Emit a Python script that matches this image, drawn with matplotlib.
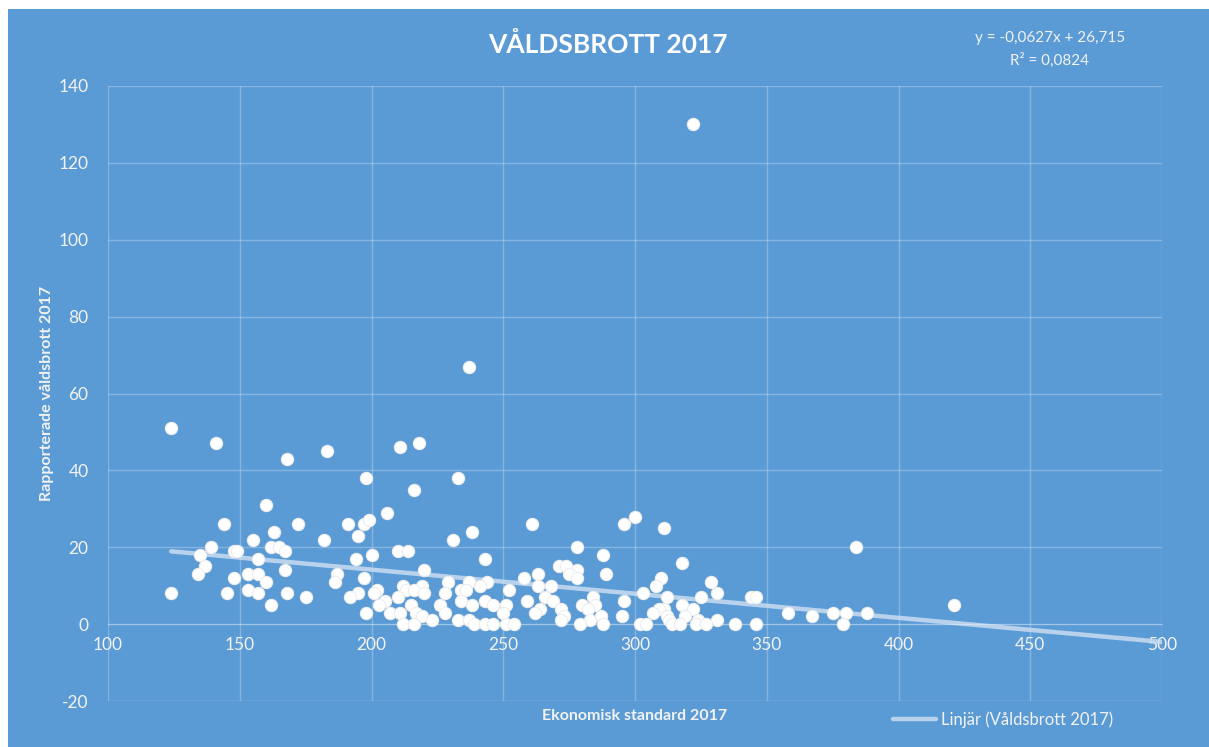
import numpy as np
import matplotlib
matplotlib.use("Agg")
from matplotlib import pyplot as plt
from matplotlib.patches import Rectangle

plt.rcParams["axes.unicode_minus"] = False

# Ekonomisk standard 2017 (x) och rapporterade våldsbrott 2017 (y)
ekonomisk_standard = [
    124, 124, 322, 237, 141, 168, 183, 211, 218, 198, 233, 216, 160, 206,
    144, 172, 191, 197, 199, 261, 296, 300, 311, 155, 182, 231, 163, 238,
    195, 139, 162, 165, 278, 384, 148, 149, 167, 210, 214, 135, 200, 288,
    157, 194, 243, 318, 137, 271, 274, 167, 220, 278, 134, 153, 157, 187,
    263, 275, 289, 148, 197, 258, 278, 310, 160, 186, 229, 237, 244, 329,
    212, 219, 241, 263, 268, 308, 153, 202, 213, 216, 252, 234, 236, 145,
    157, 168, 195, 201, 220, 228, 303, 331, 175, 192, 210, 266, 284, 325,
    312, 344, 346, 205, 234, 243, 259, 269, 296, 162, 203, 215, 226, 238,
    246, 251, 280, 285, 318, 421, 264, 272, 282, 322, 311, 309, 207, 198,
    211, 217, 228, 250, 262, 307, 358, 375, 380, 388, 219, 273, 295, 287,
    319, 367, 312, 223, 233, 237, 272, 283, 331, 324, 313, 212, 216, 239,
    243, 246, 251, 254, 279, 288, 302, 304, 314, 317, 323, 327, 338, 346,
    379,
]
valdsbrott = [
    51, 8, 130, 67, 47, 43, 45, 46, 47, 38, 38, 35, 31, 29,
    26, 26, 26, 26, 27, 26, 26, 28, 25, 22, 22, 22, 24, 24,
    23, 20, 20, 20, 20, 20, 19, 19, 19, 19, 19, 18, 18, 18,
    17, 17, 17, 16, 15, 15, 15, 14, 14, 14, 13, 13, 13, 13,
    13, 13, 13, 12, 12, 12, 12, 12, 11, 11, 11, 11, 11, 11,
    10, 10, 10, 10, 10, 10, 9, 9, 9, 9, 9, 9, 9, 8,
    8, 8, 8, 8, 8, 8, 8, 8, 7, 7, 7, 7, 7, 7,
    7, 7, 7, 6, 6, 6, 6, 6, 6, 5, 5, 5, 5, 5,
    5, 5, 5, 5, 5, 5, 4, 4, 4, 4, 4, 4, 3, 3,
    3, 3, 3, 3, 3, 3, 3, 3, 3, 3, 2, 2, 2, 2,
    2, 2, 2, 1, 1, 1, 1, 1, 1, 1, 1, 0, 0, 0,
    0, 0, 0, 0, 0, 0, 0, 0, 0, 0, 0, 0, 0, 0,
    0,
]

# linjär trendlinje enligt Excel
lutning = -0.0627
intercept = 26.715
x_ticks = [100, 150, 200, 250, 300, 350, 400, 450, 500]
y_ticks = [-20, 0, 20, 40, 60, 80, 100, 120, 140]

bla = "#5B9BD5"
text_farg = "#F2F2F2"
font = ["Lato", "DejaVu Sans"]

fig = plt.figure(figsize=(12.09, 7.47), dpi=100)
fig.patch.set_facecolor("white")
fig.patches.append(Rectangle((8 / 1209, 0), 1, 1 - 9 / 747, transform=fig.transFigure,
                             facecolor=bla, edgecolor="none", zorder=-1))

ax = fig.add_axes([108 / 1209, 1 - 701 / 747, (1162 - 108) / 1209, (701 - 86) / 747])
ax.set_facecolor(bla)

x_trend = np.array([min(ekonomisk_standard), 500])
ax.plot(x_trend, lutning * x_trend + intercept, color="#C9DDF2", lw=3.2,
        alpha=0.85, solid_capstyle="round", zorder=2, label="Linjär (Våldsbrott 2017)")
ax.scatter(ekonomisk_standard, valdsbrott, s=78, color="white",
           edgecolor="#EDEDED", linewidth=0.8, zorder=3)

ax.set_xlim(100, 500)
ax.set_ylim(-20, 140)
ax.set_xticks(x_ticks)
ax.set_yticks(y_ticks)
ax.grid(True, color="white", alpha=0.25, lw=1)
ax.set_axisbelow(True)
for s in ["top", "right", "left"]:
    ax.spines[s].set_visible(False)
ax.spines["bottom"].set_position(("data", 0))
ax.spines["bottom"].set_color((1, 1, 1, 0.25))
ax.tick_params(length=0, colors=text_farg, labelsize=12.5)
ax.tick_params(axis="x", pad=9)
ax.tick_params(axis="y", pad=14)
for lbl in ax.get_xticklabels() + ax.get_yticklabels():
    lbl.set_family(font)

fig.text(608 / 1209, 1 - 45 / 747, "VÅLDSBROTT 2017", color="white", fontsize=19,
         fontweight="bold", ha="center", va="center", family=font)
fig.text(1050 / 1209, 1 - 38 / 747, "y = -0,0627x + 26,715", color=text_farg,
         fontsize=11, ha="center", va="center", family=font)
fig.text(1050 / 1209, 1 - 60 / 747, "R² = 0,0824", color=text_farg,
         fontsize=11, ha="center", va="center", family=font)
fig.text(47 / 1209, 1 - 393 / 747, "Rapporterade våldsbrott 2017", color=text_farg,
         fontsize=11.5, fontweight="bold", rotation=90, ha="center", va="center", family=font)
fig.text(635 / 1209, 1 - 716 / 747, "Ekonomisk standard 2017", color=text_farg,
         fontsize=11.5, fontweight="bold", ha="center", va="center", family=font)

leg = fig.legend(loc="center", bbox_to_anchor=(1003 / 1209, 1 - 720 / 747), frameon=False,
                 handlelength=2.6, handletextpad=0.3, prop={"family": font, "size": 12})
for t in leg.get_texts():
    t.set_color(text_farg)

fig.savefig("out.png", dpi=100, facecolor=fig.get_facecolor())
